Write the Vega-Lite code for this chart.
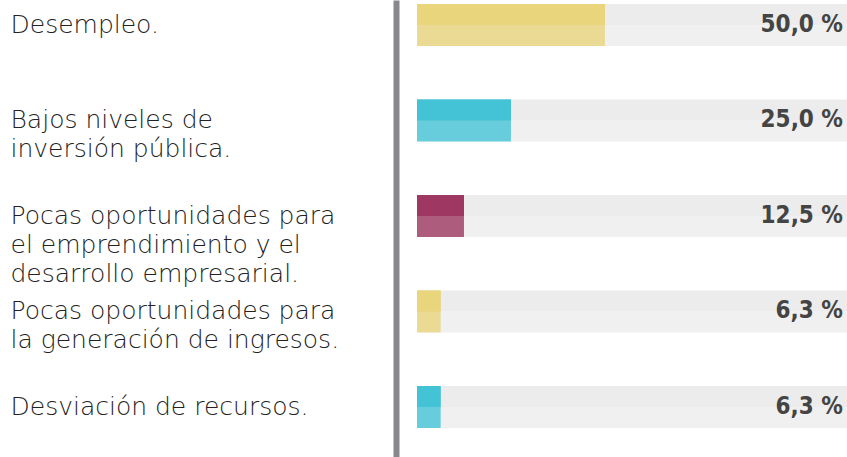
{
  "$schema": "https://vega.github.io/schema/vega-lite/v6.json",
  "width": 430,
  "height": 457,
  "padding": {"left": 10, "top": 0, "right": 0, "bottom": 0},
  "autosize": {"type": "pad"},
  "background": "white",
  "config": {"view": {"stroke": null}},
  "data": {
    "values": [
      {"causa": "Desempleo.", "valor": 50, "etiqueta": "50,0 %"},
      {"causa": "Bajos niveles de\ninversión pública.", "valor": 25, "etiqueta": "25,0 %"},
      {"causa": "Pocas oportunidades para\nel emprendimiento y el\ndesarrollo empresarial.", "valor": 12.5, "etiqueta": "12,5 %"},
      {"causa": "Pocas oportunidades para\nla generación de ingresos.", "valor": 6.3, "etiqueta": "6,3 %"},
      {"causa": "Desviación de recursos.", "valor": 6.3, "etiqueta": "6,3 %"}
    ]
  },
  "encoding": {
    "y": {
      "field": "causa",
      "type": "nominal",
      "sort": null,
      "scale": {"paddingInner": 0.5602, "paddingOuter": 0.1728, "align": 0.121},
      "axis": {
        "title": null,
        "ticks": false,
        "tickSize": 0,
        "grid": false,
        "domain": true,
        "domainColor": "#88888c",
        "domainWidth": 6,
        "offset": 21,
        "labelAlign": "left",
        "labelBaseline": "middle",
        "labelPadding": 386,
        "labelLimit": 400,
        "labelFont": "DejaVu Sans",
        "labelFontWeight": 200,
        "labelFontSize": 25,
        "labelColor": "#222222",
        "labelLineHeight": 29,
        "labelOverlap": false,
        "labelBound": false,
        "labelExpr": "split(datum.label, '\\n')"
      }
    }
  },
  "layer": [
    {
      "mark": {
        "type": "bar",
        "color": {
          "gradient": "linear",
          "x1": 0, "y1": 0, "x2": 0, "y2": 1,
          "stops": [
            {"offset": 0, "color": "#ececec"},
            {"offset": 0.5, "color": "#ececec"},
            {"offset": 0.5, "color": "#f0f0f0"},
            {"offset": 1, "color": "#f0f0f0"}
          ]
        }
      },
      "encoding": {
        "x": {"datum": 114.4, "type": "quantitative", "scale": {"domain": [0, 114.4], "nice": false, "zero": true}, "axis": null}
      }
    },
    {
      "mark": {"type": "bar", "opacity": 0.8},
      "encoding": {
        "x": {"field": "valor", "type": "quantitative", "axis": null},
        "color": {"field": "causa", "type": "nominal", "sort": null, "scale": {"range": ["#e8d57c", "#45c3d6", "#9e3762", "#e8d57c", "#45c3d6"]}, "legend": null}
      }
    },
    {
      "mark": {"type": "bar", "height": {"band": 0.5}, "yOffset": -10.5},
      "encoding": {
        "x": {"field": "valor", "type": "quantitative", "axis": null},
        "color": {"field": "causa", "type": "nominal", "sort": null, "legend": null}
      }
    },
    {
      "mark": {"type": "text", "align": "right", "baseline": "middle", "dx": -4, "font": "DejaVu Sans Condensed", "fontWeight": "bold", "fontSize": 24, "color": "#444444"},
      "encoding": {
        "x": {"datum": 114.4, "type": "quantitative", "axis": null},
        "text": {"field": "etiqueta"}
      }
    }
  ]
}
